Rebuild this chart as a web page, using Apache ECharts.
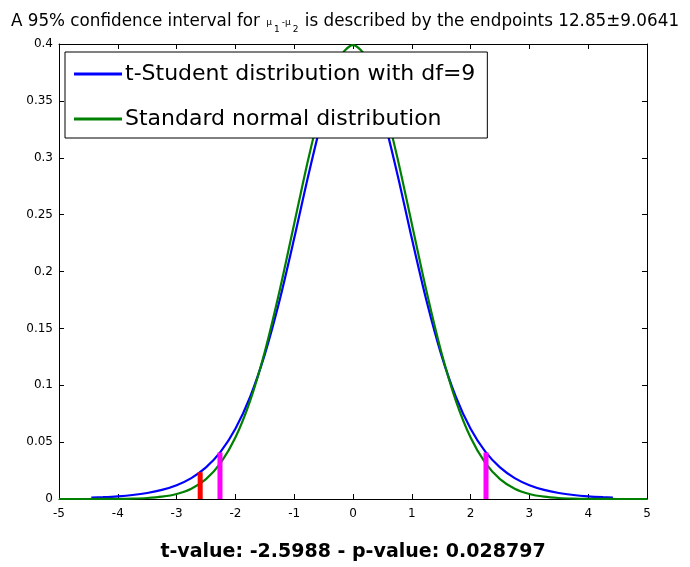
<!DOCTYPE html>
<html>
<head>
<meta charset="utf-8">
<script src="https://cdn.jsdelivr.net/npm/echarts@6/dist/echarts.min.js"></script>
<style>html,body{margin:0;padding:0;background:#fff}#c{width:690px;height:567px}</style>
</head>
<body>
<div id="c"></div>
<script>
// t-Student (df=9) curve
var tX = [-4.45,-4.25,-4,-3.75,-3.5,-3.25,-3,-2.75,-2.5,-2.25,-2,-1.75,-1.5,-1.25,-1,-0.75,-0.5,-0.25,0,0.25,0.5,0.75,1,1.25,1.5,1.75,2,2.25,2.5,2.75,3,3.25,3.5,3.75,4,4.25,4.42];
var tY = [0.00116,0.00158,0.00235,0.00351,0.00529,0.00800,0.01213,0.01838,0.02778,0.04166,0.06171,0.08971,0.12715,0.17428,0.22913,0.28657,0.33835,0.37484,0.38803,0.37484,0.33835,0.28657,0.22913,0.17428,0.12715,0.08971,0.06171,0.04166,0.02778,0.01838,0.01213,0.00800,0.00529,0.00351,0.00235,0.00158,0.00121];
// Standard normal curve
var nX = [-5,-4.75,-4.5,-4.25,-4,-3.75,-3.5,-3.25,-3,-2.75,-2.5,-2.25,-2,-1.75,-1.5,-1.25,-1,-0.75,-0.5,-0.25,0,0.25,0.5,0.75,1,1.25,1.5,1.75,2,2.25,2.5,2.75,3,3.25,3.5,3.75,4,4.25,4.5,4.75,5];
var nY = [0.0000015,0.0000051,0.000016,0.000047,0.000134,0.000353,0.000873,0.002029,0.004432,0.009094,0.017528,0.031740,0.053991,0.086277,0.129518,0.182649,0.241971,0.301137,0.352065,0.386668,0.398942,0.386668,0.352065,0.301137,0.241971,0.182649,0.129518,0.086277,0.053991,0.031740,0.017528,0.009094,0.004432,0.002029,0.000873,0.000353,0.000134,0.000047,0.000016,0.0000051,0.0000015];
// observed t value and critical values
var tValueX = [-2.5988];
var tValueY = [0.0236];
var critX = [-2.2622, 2.2622];
var critY = [0.0409, 0.0409];

function pairs(xs, ys){ return xs.map(function(x,i){return [x, ys[i]];}); }
function vlines(xs, ys, color, name){
  return xs.map(function(x,i){
    return {type:'line', name:name, data:[[x,0],[x,ys[i]]], showSymbol:false, silent:true,
      lineStyle:{color:color, width:5}, z:5, animation:false};
  });
}

var FONT = 'DejaVu Sans';
var chart = echarts.init(document.getElementById('c'), null, {renderer:'canvas'});
var axisCommon = {
  axisLine:{show:true, onZero:false, lineStyle:{color:'#000', width:1}},
  axisTick:{show:true, inside:true, length:5, lineStyle:{color:'#000'}},
  splitLine:{show:false}
};
var option = {
  backgroundColor:'#fff',
  animation:false,
  title:{
    text:'A 95% confidence interval for {s|μ}{sub|1}{s|-μ}{sub|2} is described by the endpoints 12.85±9.0641',
    left:'center', top:4,
    textStyle:{fontFamily:FONT, fontSize:16.8, fontWeight:'normal', color:'#000',
      rich:{
        s:{fontFamily:FONT, fontSize:9, color:'#000', padding:[3,1,0,1]},
        sub:{fontFamily:FONT, fontSize:9, color:'#000', padding:[16,1,0,1]}
      }}
  },
  grid:{left:59, right:43, top:44, bottom:60, containLabel:false},
  legend:{
    left:65, top:52, orient:'vertical',
    data:['t-Student distribution with df=9','Standard normal distribution'],
    icon:'rect', itemWidth:48, itemHeight:3, itemGap:23,
    padding:[11,12,8,9],
    backgroundColor:'#fff', borderColor:'#000', borderWidth:1, borderRadius:0,
    textStyle:{fontFamily:FONT, fontSize:22, color:'#000', padding:[0,0,0,-2]},
    selectedMode:false
  },
  xAxis:[
    Object.assign({type:'value', min:-5, max:5, interval:1, position:'bottom',
      axisLabel:{color:'#000', fontFamily:FONT, fontSize:12, margin:9},
      name:'t-value: -2.5988 - p-value: 0.028797', nameLocation:'middle', nameGap:44,
      nameTextStyle:{fontFamily:FONT, fontSize:19, fontWeight:'bold', color:'#000'}}, axisCommon),
    Object.assign({type:'value', min:-5, max:5, interval:1, position:'top',
      axisLabel:{show:false}}, axisCommon)
  ],
  yAxis:[
    Object.assign({type:'value', min:0, max:0.4, interval:0.05, position:'left',
      axisLabel:{color:'#000', fontFamily:FONT, fontSize:12, margin:6,
        formatter:function(v){ return String(Math.round(v*100)/100); }}}, axisCommon),
    Object.assign({type:'value', min:0, max:0.4, interval:0.05, position:'right',
      axisLabel:{show:false}}, axisCommon)
  ],
  series:[
    {type:'line', name:'t-Student distribution with df=9', data:pairs(tX,tY), showSymbol:false,
      smooth:0.3, lineStyle:{color:'#0000ff', width:2.2}, itemStyle:{color:'#0000ff'}, z:2},
    {type:'line', name:'Standard normal distribution', data:pairs(nX,nY), showSymbol:false,
      smooth:0.3, lineStyle:{color:'#008000', width:2.2}, itemStyle:{color:'#008000'}, z:3}
  ].concat(vlines(tValueX, tValueY, '#ff0000', 'tval'), vlines(critX, critY, '#ff00ff', 'crit'))
};
chart.setOption(option);
</script>
</body>
</html>
